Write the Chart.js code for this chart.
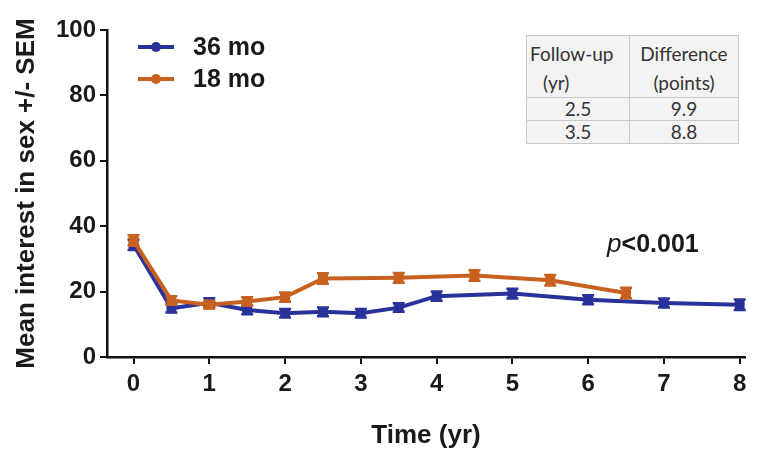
<!DOCTYPE html>
<html>
<head>
<meta charset="utf-8">
<script src="https://cdn.jsdelivr.net/npm/chart.js@4.4.1/dist/chart.umd.min.js"></script>
<style>
  html, body { margin: 0; padding: 0; background: #fff; }
  #wrap { position: relative; width: 759px; height: 449px; }
  #c { position: absolute; left: 0; top: 0; }
  #tbl {
    position: absolute; left: 526px; top: 35px;
    border-collapse: collapse; background: #f3f3f3;
    font-family: Lato, "Open Sans", sans-serif; font-size: 19px; color: #333;
  }
  #tbl td { border: 1.5px solid #c9c9c9; padding: 0 3px; text-align: center; line-height: 22px; }
  #tbl td.hd { vertical-align: top; height: 53px; padding-top: 3px; line-height: 29px; }
</style>
</head>
<body>
<div id="wrap">
  <canvas id="c" width="759" height="449"></canvas>
  <table id="tbl"></table>
</div>
<script>
// Mean interest in sex by follow-up time, two treatment durations
const years36 = [0, 0.5, 1, 1.5, 2, 2.5, 3, 3.5, 4, 5, 6, 7, 8];
const mean36  = [34.3, 14.9, 16.6, 14.4, 13.4, 13.8, 13.4, 15.1, 18.6, 19.4, 17.5, 16.5, 16.0];
const sem36   = [1.6, 1.3, 1.4, 1.3, 1.3, 1.3, 1.3, 1.3, 1.4, 1.5, 1.4, 1.4, 1.6];

const years18 = [0, 0.5, 1, 1.5, 2, 2.5, 3.5, 4.5, 5.5, 6.5];
const mean18  = [35.6, 17.3, 16.0, 17.0, 18.3, 24.0, 24.2, 24.9, 23.5, 19.6];
const sem18   = [1.6, 1.3, 1.2, 1.3, 1.4, 1.6, 1.5, 1.6, 1.6, 1.6];

const xTicks = [0, 1, 2, 3, 4, 5, 6, 7, 8];
const yTicks = [0, 20, 40, 60, 80, 100];

// Inset table: difference between arms at selected follow-up times
const tblFollowUp = ['2.5', '3.5'];
const tblDiff     = ['9.9', '8.8'];

const BLUE = '#29329a';
const ORANGE = '#c8611f';
const FONT = '"Liberation Sans", Arial, sans-serif';

(function buildTable() {
  const t = document.getElementById('tbl');
  let html = '<tr><td class="hd" style="width:96px;text-align:left">Follow-up<br><span style="margin-left:13px">(yr)</span></td>' +
             '<td class="hd" style="width:102px">Difference<br>(points)</td></tr>';
  tblFollowUp.forEach((f, i) => {
    html += '<tr><td>' + f + '</td><td>' + tblDiff[i] + '</td></tr>';
  });
  t.innerHTML = html;
})();

const toPts = (xs, ys, es) => xs.map((x, i) => ({ x: x, y: ys[i], sem: es[i] }));

// Vertical SEM bars with caps, drawn with each dataset
const errorBars = {
  id: 'errorBars',
  afterDatasetDraw(chart, args) {
    const meta = args.meta;
    const ds = chart.data.datasets[args.index];
    const ys = chart.scales.y;
    const ctx = chart.ctx;
    ctx.save();
    ctx.strokeStyle = ds.borderColor;
    ctx.lineWidth = 2.5;
    meta.data.forEach((pt, i) => {
      const d = ds.data[i];
      const top = ys.getPixelForValue(d.y + d.sem);
      const bot = ys.getPixelForValue(d.y - d.sem);
      ctx.beginPath();
      ctx.moveTo(pt.x, top); ctx.lineTo(pt.x, bot);
      ctx.moveTo(pt.x - 6, top); ctx.lineTo(pt.x + 6, top);
      ctx.moveTo(pt.x - 6, bot); ctx.lineTo(pt.x + 6, bot);
      ctx.stroke();
    });
    ctx.restore();
  }
};

// Legend inside the plot area and the p-value annotation
const annotations = {
  id: 'annotations',
  afterDraw(chart) {
    const ctx = chart.ctx;
    const a = chart.chartArea;
    const items = [
      { label: '36 mo', color: BLUE, y: a.top + 17 },
      { label: '18 mo', color: ORANGE, y: a.top + 49 }
    ];
    ctx.save();
    items.forEach(it => {
      const x0 = a.left + 31, x1 = a.left + 67;
      ctx.strokeStyle = it.color; ctx.lineWidth = 4;
      ctx.beginPath(); ctx.moveTo(x0, it.y); ctx.lineTo(x1, it.y); ctx.stroke();
      ctx.fillStyle = it.color;
      ctx.beginPath(); ctx.arc((x0 + x1) / 2, it.y, 5, 0, Math.PI * 2); ctx.fill();
      ctx.fillStyle = '#1a1a1a';
      ctx.font = 'bold 25px ' + FONT;
      ctx.textBaseline = 'middle'; ctx.textAlign = 'left';
      ctx.fillText(it.label, a.left + 86, it.y + 1);
    });
    const px = chart.scales.x.getPixelForValue(6.25);
    const py = chart.scales.y.getPixelForValue(34.2);
    ctx.fillStyle = '#1a1a1a';
    ctx.textBaseline = 'middle'; ctx.textAlign = 'left';
    ctx.font = 'italic 26px ' + FONT;
    ctx.fillText('p', px, py);
    const w = ctx.measureText('p').width;
    ctx.font = 'bold 25px ' + FONT;
    ctx.fillText('<0.001', px + w, py);
    ctx.restore();
  }
};

new Chart(document.getElementById('c'), {
  type: 'line',
  data: {
    datasets: [
      {
        label: '36 mo', data: toPts(years36, mean36, sem36),
        borderColor: BLUE, backgroundColor: BLUE, borderWidth: 4,
        pointStyle: 'rect', pointRadius: 7, pointHoverRadius: 7, pointBorderWidth: 0,
        tension: 0, order: 1
      },
      {
        label: '18 mo', data: toPts(years18, mean18, sem18),
        borderColor: ORANGE, backgroundColor: ORANGE, borderWidth: 4,
        pointStyle: 'rect', pointRadius: 7, pointHoverRadius: 7, pointBorderWidth: 0,
        tension: 0, order: 0
      }
    ]
  },
  options: {
    responsive: false,
    animation: false,
    layout: { padding: { top: 30, right: 14, left: 0, bottom: 0 } },
    plugins: { legend: { display: false }, tooltip: { enabled: false } },
    scales: {
      x: {
        type: 'linear', min: -0.35, max: 8.07,
        afterBuildTicks: s => { s.ticks = xTicks.map(v => ({ value: v })); },
        afterFit: s => { s.height = 92; },
        grid: { drawOnChartArea: false, drawTicks: true, tickLength: 7, color: '#111', lineWidth: 2 },
        border: { display: true, color: '#111', width: 2.5 },
        ticks: { color: '#1a1a1a', padding: 6, font: { family: FONT, size: 24, weight: 'bold' } },
        title: { display: true, text: 'Time (yr)', color: '#1a1a1a', padding: 0,
                 font: { family: FONT, size: 26, weight: 'bold', lineHeight: 1.0 } }
      },
      y: {
        min: 0, max: 100,
        afterBuildTicks: s => { s.ticks = yTicks.map(v => ({ value: v })); },
        afterFit: s => { s.width = 107; },
        grid: { drawOnChartArea: false, drawTicks: true, tickLength: 7, color: '#111', lineWidth: 2 },
        border: { display: true, color: '#111', width: 2.5 },
        ticks: { color: '#1a1a1a', padding: 4, font: { family: FONT, size: 24, weight: 'bold' } },
        title: { display: true, text: 'Mean interest in sex +/- SEM', color: '#1a1a1a', padding: { top: 14 },
                 font: { family: FONT, size: 26, weight: 'bold', lineHeight: 1.0 } }
      }
    }
  },
  plugins: [errorBars, annotations]
});
</script>
</body>
</html>
